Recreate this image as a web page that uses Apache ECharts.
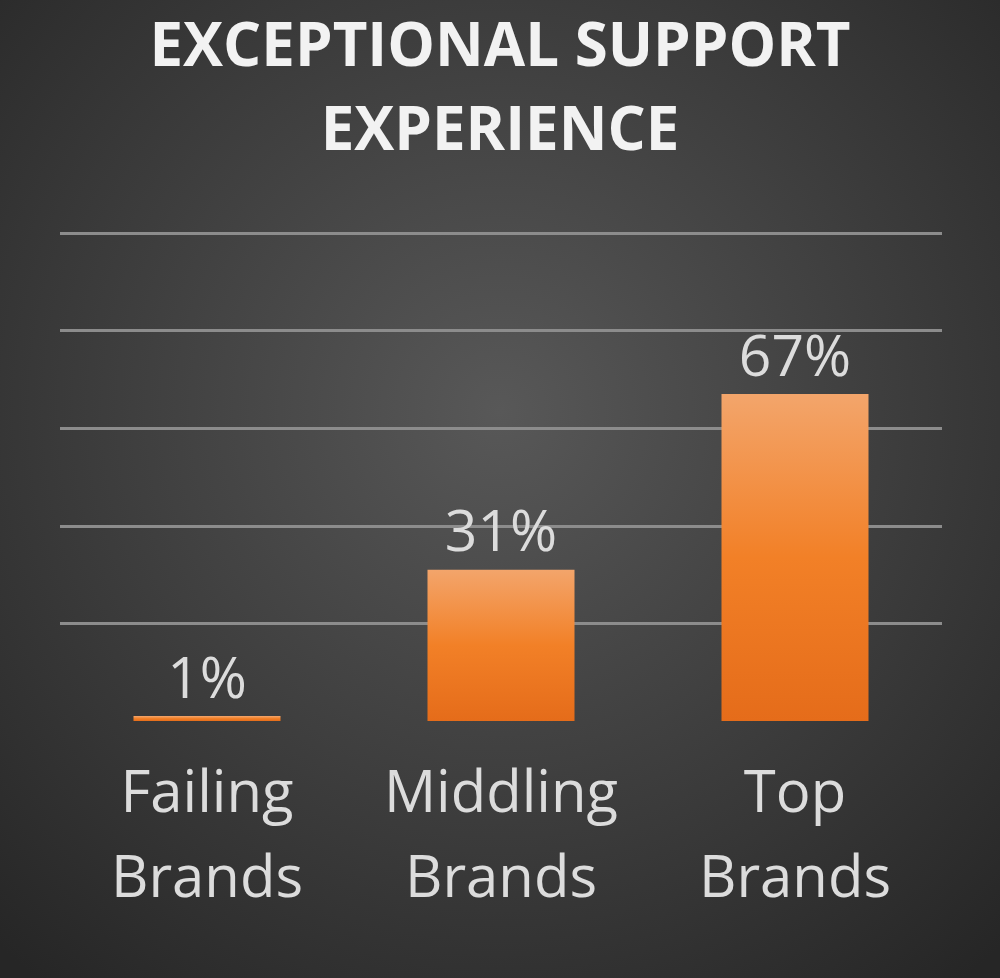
<!DOCTYPE html>
<html>
<head>
<meta charset="utf-8">
<title>Exceptional Support Experience</title>
<script src="https://cdn.jsdelivr.net/npm/echarts@6/dist/echarts.min.js"></script>
<style>
  html, body { margin: 0; padding: 0; background: #333; }
  #container { width: 1000px; height: 978px; }
</style>
</head>
<body>
<div id="container"></div>
<script>
// 数据
var categories = ['Failing\nBrands', 'Middling\nBrands', 'Top\nBrands'];
var values = [1, 31, 67];
var titleText = 'EXCEPTIONAL SUPPORT\nEXPERIENCE';

var myChart = echarts.init(document.getElementById('container'));

var option = {
    // 背景径向渐变
    backgroundColor: {
        type: 'radial',
        x: 0.5, y: 0.42, r: 0.75,
        colorStops: [
            { offset: 0, color: '#585858' },
            { offset: 1, color: '#262626' }
        ]
    },
    title: {
        text: titleText,
        left: 'center',
        top: 2,
        textStyle: {
            fontFamily: 'Open Sans',
            fontWeight: 'bold',
            fontSize: 60,
            lineHeight: 84,
            color: '#f2f2f2'
        }
    },
    grid: {
        left: 60,
        right: 58,
        top: 233,
        bottom: 257
    },
    xAxis: {
        type: 'category',
        data: categories,
        axisLine: { show: false },
        axisTick: { show: false },
        axisLabel: {
            interval: 0,
            hideOverlap: false,
            margin: 32,
            fontFamily: 'Open Sans',
            fontSize: 58,
            lineHeight: 85,
            color: '#dcdcdc'
        }
    },
    yAxis: {
        type: 'value',
        min: 0,
        max: 100,
        interval: 20,
        axisLabel: { show: false },
        axisLine: { show: false },
        axisTick: { show: false },
        splitLine: {
            showMinLine: false,
            lineStyle: { color: '#8c8c8c', width: 3 }
        }
    },
    series: [{
        type: 'bar',
        data: values,
        barWidth: '50%',
        itemStyle: {
            color: new echarts.graphic.LinearGradient(0, 0, 0, 1, [
                { offset: 0, color: '#f3a56b' },
                { offset: 0.5, color: '#f28027' },
                { offset: 1, color: '#e56c1a' }
            ])
        },
        label: {
            show: true,
            position: 'top',
            distance: 6,
            formatter: '{c}%',
            fontFamily: 'Open Sans',
            fontSize: 57,
            color: '#dcdcdc'
        }
    }]
};

myChart.setOption(option);
</script>
</body>
</html>
